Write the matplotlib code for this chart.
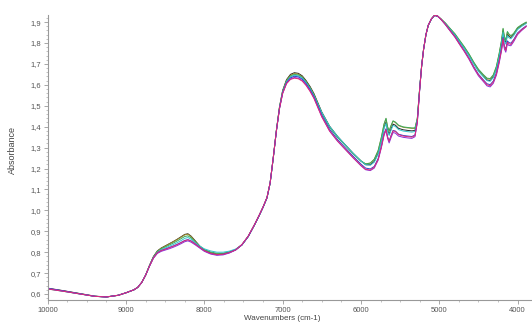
import matplotlib
matplotlib.use("Agg")
import matplotlib.pyplot as plt
from matplotlib.ticker import MultipleLocator, FuncFormatter

# wavenumbers (cm-1), grouped by spectral region
wavenumbers = [
    10000, 9800, 9600, 9400, 9250, 9100, 9000, 8900,
    8850, 8800, 8750, 8700, 8650, 8600, 8550, 8500, 8450, 8400, 8350, 8300,
    8250, 8210, 8170, 8120, 8060, 8000, 7920, 7840, 7760, 7680, 7600,
    7520, 7440, 7360, 7300, 7250, 7200, 7160, 7120, 7080, 7040, 7000, 6950,
    6900, 6850, 6800, 6750, 6700, 6650, 6600,
    6500, 6400, 6300, 6200, 6100, 6000, 5940, 5880, 5830, 5780, 5740, 5705,
    5680, 5660, 5640, 5615, 5590, 5560, 5520, 5460, 5400, 5350, 5310,
    5280, 5250, 5225, 5200, 5170, 5140, 5100, 5060, 5020, 4980, 4920, 4860,
    4800, 4740, 4680, 4620, 4560, 4500, 4440,
    4390, 4350, 4310, 4270, 4235, 4205, 4185, 4168, 4150, 4130, 4110, 4085,
    4050, 4000, 3950, 3890,
]

abs_black = [
    .628, .616, .603, .590, .586, .594, .606, .620,
    .632, .655, .690, .737, .779, .806, .820, .830, .840, .850, .861, .873,
    .885, .888, .877, .856, .830, .810, .797, .791, .793, .800, .812,
    .835, .875, .930, .975, 1.015, 1.060, 1.130, 1.250, 1.382, 1.495, 1.573, 1.625,
    1.650, 1.658, 1.655, 1.643, 1.620, 1.592, 1.558,
    1.470, 1.402, 1.354, 1.313, 1.273, 1.236, 1.218, 1.218, 1.234, 1.274, 1.334, 1.397,
    1.422, 1.384, 1.364, 1.390, 1.412, 1.407, 1.392, 1.385, 1.382, 1.380, 1.382,
    1.436, 1.582, 1.690, 1.770, 1.840, 1.885, 1.915, 1.932, 1.928, 1.914, 1.892, 1.865,
    1.839, 1.807, 1.776, 1.742, 1.703, 1.668, 1.643,
    1.623, 1.620, 1.638, 1.678, 1.739, 1.800, 1.857, 1.817, 1.802, 1.842, 1.832, 1.826,
    1.840, 1.869, 1.883, 1.896,
]
abs_olive = [
    .626, .615, .602, .589, .586, .594, .606, .620,
    .632, .655, .690, .737, .778, .805, .819, .829, .839, .849, .860, .871,
    .883, .886, .875, .854, .829, .810, .797, .791, .793, .800, .812,
    .835, .875, .930, .975, 1.015, 1.060, 1.130, 1.250, 1.381, 1.493, 1.570, 1.622,
    1.646, 1.654, 1.651, 1.639, 1.616, 1.588, 1.554,
    1.466, 1.398, 1.351, 1.311, 1.271, 1.236, 1.222, 1.226, 1.244, 1.286, 1.347, 1.411,
    1.438, 1.398, 1.378, 1.404, 1.426, 1.420, 1.405, 1.397, 1.394, 1.392, 1.392,
    1.440, 1.584, 1.690, 1.770, 1.840, 1.885, 1.915, 1.932, 1.928, 1.916, 1.894, 1.868,
    1.843, 1.811, 1.780, 1.746, 1.707, 1.672, 1.647,
    1.629, 1.627, 1.645, 1.686, 1.748, 1.810, 1.867, 1.827, 1.812, 1.852, 1.840, 1.833,
    1.844, 1.872, 1.885, 1.898,
]
abs_green = [
    .624, .613, .601, .589, .586, .594, .606, .620,
    .632, .655, .690, .736, .777, .803, .816, .825, .834, .843, .853, .864,
    .875, .878, .869, .851, .829, .813, .801, .795, .795, .801, .812,
    .835, .875, .930, .975, 1.015, 1.060, 1.130, 1.250, 1.381, 1.492, 1.568, 1.619,
    1.642, 1.650, 1.647, 1.636, 1.614, 1.586, 1.552,
    1.465, 1.397, 1.350, 1.311, 1.271, 1.236, 1.222, 1.226, 1.244, 1.286, 1.348, 1.413,
    1.440, 1.400, 1.380, 1.406, 1.428, 1.422, 1.407, 1.399, 1.396, 1.394, 1.394,
    1.440, 1.584, 1.690, 1.770, 1.840, 1.885, 1.915, 1.932, 1.928, 1.916, 1.895, 1.869,
    1.844, 1.813, 1.782, 1.748, 1.709, 1.675, 1.650,
    1.632, 1.630, 1.648, 1.689, 1.750, 1.812, 1.870, 1.830, 1.815, 1.855, 1.843, 1.835,
    1.846, 1.874, 1.887, 1.900,
]
abs_cyan = [
    .625, .613, .601, .589, .586, .594, .606, .620,
    .632, .655, .690, .735, .775, .800, .812, .820, .828, .836, .845, .855,
    .866, .870, .862, .846, .829, .816, .806, .800, .800, .805, .815,
    .835, .875, .930, .975, 1.015, 1.060, 1.130, 1.250, 1.380, 1.490, 1.565, 1.615,
    1.638, 1.646, 1.643, 1.632, 1.610, 1.582, 1.548,
    1.468, 1.401, 1.354, 1.313, 1.273, 1.236, 1.218, 1.216, 1.230, 1.270, 1.330, 1.391,
    1.416, 1.378, 1.358, 1.384, 1.406, 1.401, 1.386, 1.379, 1.376, 1.374, 1.377,
    1.434, 1.582, 1.690, 1.770, 1.840, 1.885, 1.915, 1.932, 1.928, 1.914, 1.891, 1.864,
    1.838, 1.806, 1.774, 1.739, 1.700, 1.665, 1.640,
    1.620, 1.617, 1.635, 1.675, 1.735, 1.795, 1.850, 1.810, 1.795, 1.835, 1.825, 1.820,
    1.835, 1.864, 1.879, 1.893,
]
abs_blue = [
    .627, .615, .602, .589, .586, .594, .606, .620,
    .632, .655, .690, .734, .773, .797, .808, .815, .822, .829, .837, .846,
    .856, .860, .854, .841, .823, .807, .794, .788, .790, .798, .811,
    .835, .875, .930, .975, 1.015, 1.060, 1.130, 1.250, 1.379, 1.488, 1.562, 1.611,
    1.633, 1.641, 1.638, 1.627, 1.605, 1.577, 1.543,
    1.455, 1.387, 1.339, 1.299, 1.259, 1.221, 1.202, 1.198, 1.210, 1.248, 1.306, 1.367,
    1.390, 1.352, 1.332, 1.358, 1.382, 1.379, 1.364, 1.358, 1.355, 1.353, 1.360,
    1.424, 1.578, 1.690, 1.770, 1.840, 1.885, 1.915, 1.932, 1.928, 1.914, 1.888, 1.859,
    1.831, 1.797, 1.764, 1.728, 1.687, 1.651, 1.625,
    1.605, 1.601, 1.618, 1.658, 1.716, 1.774, 1.827, 1.785, 1.770, 1.810, 1.802, 1.799,
    1.816, 1.848, 1.865, 1.882,
]
abs_purple = [
    .626, .614, .601, .589, .586, .594, .606, .620,
    .632, .655, .690, .733, .771, .794, .804, .810, .816, .823, .831, .840,
    .850, .854, .848, .836, .820, .804, .791, .785, .787, .796, .810,
    .835, .875, .930, .975, 1.015, 1.060, 1.130, 1.250, 1.378, 1.486, 1.559, 1.607,
    1.628, 1.635, 1.632, 1.621, 1.599, 1.571, 1.537,
    1.448, 1.379, 1.331, 1.291, 1.251, 1.213, 1.194, 1.190, 1.202, 1.240, 1.298, 1.359,
    1.382, 1.344, 1.322, 1.348, 1.372, 1.369, 1.355, 1.349, 1.346, 1.344, 1.352,
    1.420, 1.576, 1.690, 1.770, 1.840, 1.885, 1.915, 1.932, 1.928, 1.914, 1.887, 1.857,
    1.828, 1.793, 1.759, 1.722, 1.680, 1.643, 1.617,
    1.595, 1.590, 1.607, 1.646, 1.704, 1.762, 1.813, 1.771, 1.756, 1.796, 1.788, 1.787,
    1.806, 1.840, 1.859, 1.878,
]
abs_magenta = [
    .624, .613, .601, .589, .586, .594, .606, .620,
    .632, .655, .690, .734, .773, .797, .808, .814, .821, .828, .836, .845,
    .855, .859, .853, .840, .823, .807, .794, .788, .790, .798, .811,
    .837, .877, .932, .977, 1.017, 1.062, 1.132, 1.252, 1.380, 1.487, 1.559, 1.606,
    1.626, 1.632, 1.629, 1.618, 1.597, 1.569, 1.535,
    1.447, 1.379, 1.332, 1.292, 1.252, 1.215, 1.196, 1.193, 1.206, 1.244, 1.302, 1.363,
    1.386, 1.350, 1.330, 1.356, 1.380, 1.377, 1.362, 1.355, 1.352, 1.350, 1.357,
    1.422, 1.578, 1.690, 1.770, 1.840, 1.885, 1.916, 1.933, 1.929, 1.914, 1.888, 1.858,
    1.829, 1.794, 1.761, 1.725, 1.684, 1.648, 1.622,
    1.600, 1.596, 1.613, 1.652, 1.710, 1.768, 1.821, 1.779, 1.764, 1.804, 1.796, 1.793,
    1.812, 1.844, 1.862, 1.880,
]

spectra = [
    (abs_black, "#222222"),
    (abs_olive, "#a08a2c"),
    (abs_green, "#3aaa5a"),
    (abs_cyan, "#33c4cc"),
    (abs_blue, "#3040c8"),
    (abs_purple, "#8a30d8"),
    (abs_magenta, "#dd2a7a"),
]

x_ticks = [10000, 9000, 8000, 7000, 6000, 5000, 4000]
y_ticks = [0.6, 0.7, 0.8, 0.9, 1.0, 1.1, 1.2, 1.3, 1.4, 1.5, 1.6, 1.7, 1.8, 1.9]

plt.rcParams['font.family'] = ['Liberation Sans', 'DejaVu Sans']

fig = plt.figure(figsize=(5.32, 3.23), dpi=100)
ax = fig.add_axes([0.0897, 0.0703, 0.9126, 0.884])

for values, color in spectra:
    ax.plot(wavenumbers, values, color=color, lw=0.7)

ax.set_xlim(10000, 3800)
ax.set_ylim(0.57, 1.935)
ax.set_xticks(x_ticks)
ax.set_yticks(y_ticks)
ax.xaxis.set_minor_locator(MultipleLocator(250))
ax.yaxis.set_minor_locator(MultipleLocator(0.02))
ax.yaxis.set_major_formatter(FuncFormatter(lambda v, p: ("%.1f" % v).replace(".", ",")))

for side in ["top", "right"]:
    ax.spines[side].set_visible(False)
for side in ["left", "bottom"]:
    ax.spines[side].set_color("#999999")
    ax.spines[side].set_linewidth(0.8)
ax.tick_params(which="major", length=3, width=0.6, color="#999999",
               labelsize=5.5, labelcolor="#555555", pad=2)
ax.tick_params(which="minor", length=1.5, width=0.5, color="#aaaaaa")

fig.text(0.0226, 0.535, "Absorbance", rotation=90, ha="center", va="center",
         fontsize=6.5, color="#444444")
fig.text(0.53, 0.013, "Wavenumbers (cm-1)", ha="center", va="center",
         fontsize=5.8, color="#444444")

fig.savefig("out.png", dpi=100)
